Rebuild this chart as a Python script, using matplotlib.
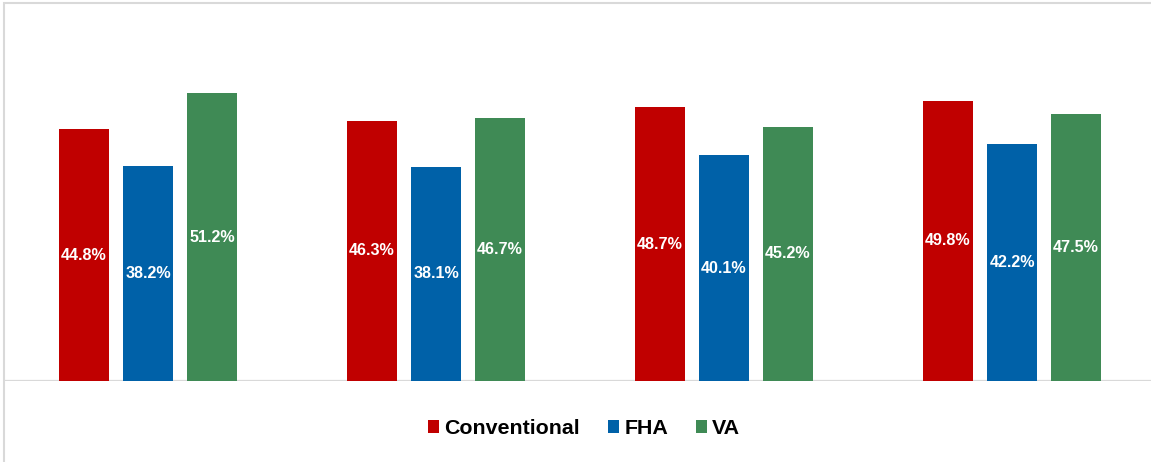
import matplotlib.pyplot as plt
import numpy as np
from matplotlib.patches import Patch, Rectangle

plt.rcParams['font.family'] = ['Liberation Sans', 'DejaVu Sans']

# share of loans by type, four periods
series = ['Conventional', 'FHA', 'VA']
conventional = [44.8, 46.3, 48.7, 49.8]
fha = [38.2, 38.1, 40.1, 42.2]
va = [51.2, 46.7, 45.2, 47.5]
colors = ['#C00000', '#0061A8', '#3F8A55']

W, H = 1151, 462
fig = plt.figure(figsize=(W / 100, H / 100), dpi=100)

# chart frame (light gray outline)
fig.patches.append(Rectangle((3.5 / W, -0.1), 1.2, 1.1 - 3.5 / H,
                             transform=fig.transFigure, fill=False,
                             edgecolor='#D9D9D9', linewidth=1.5))

ax = fig.add_axes([4 / W, 1 - 381 / H, 1152 / W, 337.5 / H])
ax.set_xlim(-0.5, 3.5)
ax.set_ylim(0, 60)

x = np.arange(len(conventional))
bw = 50 / 288
off = 64 / 288
for i, (vals, c) in enumerate(zip([conventional, fha, va], colors)):
    pos = x + (i - 1) * off
    bars = ax.bar(pos, vals, width=bw, color=c, edgecolor='none', zorder=2)
    for b, v in zip(bars, vals):
        ax.text(b.get_x() + b.get_width() / 2, v / 2, f'{v:.1f}%',
                ha='center', va='center', color='white', fontsize=11.6,
                fontweight='bold', zorder=3)

ax.axhline(0, color='#D9D9D9', linewidth=1.6, zorder=1)
for s in ax.spines.values():
    s.set_visible(False)
ax.set_xticks([])
ax.set_yticks([])
ax.patch.set_alpha(0)

handles = [Patch(facecolor=c, edgecolor='none', label=s) for s, c in zip(series, colors)]
leg = fig.legend(handles=handles, loc='center', ncol=3,
                 bbox_to_anchor=(584 / W, 1 - 428.5 / H), frameon=False,
                 prop={'size': 15.4, 'weight': 'bold'},
                 handlelength=0.52, handleheight=0.52, handletextpad=0.25,
                 columnspacing=1.3, borderaxespad=0, borderpad=0)

fig.savefig('out.png', dpi=100, facecolor='white')
